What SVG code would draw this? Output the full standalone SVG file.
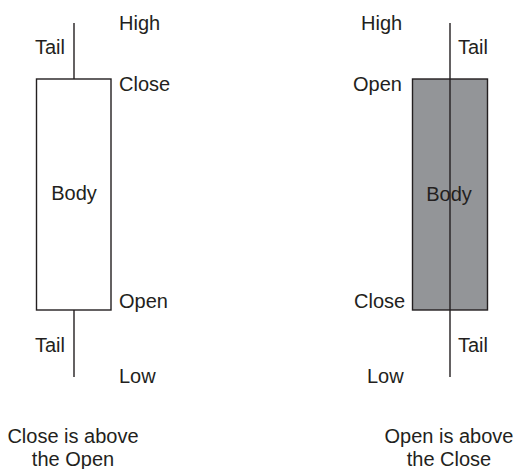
<svg xmlns="http://www.w3.org/2000/svg" width="518" height="469" viewBox="0 0 518 469">
  <style>
    text { font-family: "Liberation Sans", Arial, sans-serif; font-size: 20px; fill: #231f20; }
    .mid { text-anchor: middle; }
    .wick { stroke: #231f20; stroke-width: 1.4; fill: none; }
    .body { stroke: #231f20; stroke-width: 1.4; }
  </style>
  <rect width="518" height="469" fill="#ffffff"/>

  <!-- Bullish candle: close above open -->
  <g id="candle-up">
    <g id="up-wicks">
      <line class="wick" x1="74" y1="23" x2="74" y2="79"/>
      <line class="wick" x1="74" y1="310" x2="74" y2="377"/>
    </g>
    <rect class="body" x="36.5" y="79" width="74.5" height="231" fill="#ffffff"/>
    <text x="119" y="30">High</text>
    <text x="35" y="54">Tail</text>
    <text x="119" y="91">Close</text>
    <text x="74" y="200" class="mid">Body</text>
    <text x="119" y="308">Open</text>
    <text x="35" y="352">Tail</text>
    <text x="119" y="383">Low</text>
    <text x="73" y="443" class="mid">Close is above</text>
    <text x="73" y="466" class="mid">the Open</text>
  </g>

  <!-- Bearish candle: open above close -->
  <g id="candle-down">
    <rect class="body" x="412.5" y="79" width="75" height="231" fill="#939598"/>
    <g id="down-wicks">
      <line class="wick" x1="450" y1="23" x2="450" y2="377"/>
    </g>
    <text x="361" y="30">High</text>
    <text x="458" y="54">Tail</text>
    <text x="353" y="91">Open</text>
    <text x="449" y="201" class="mid">Body</text>
    <text x="354" y="308">Close</text>
    <text x="458" y="352">Tail</text>
    <text x="367" y="383">Low</text>
    <text x="449" y="443" class="mid">Open is above</text>
    <text x="449" y="466" class="mid">the Close</text>
  </g>
</svg>
